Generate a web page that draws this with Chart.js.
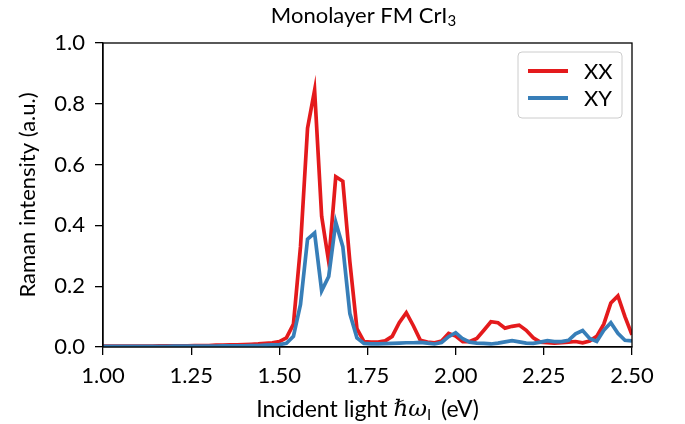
<!DOCTYPE html>
<html>
<head>
<meta charset="utf-8">
<script src="https://cdn.jsdelivr.net/npm/chart.js@4.4.1/dist/chart.umd.min.js"></script>
<style>
  html, body { margin: 0; padding: 0; background: #fff; }
  #c { display: block; }
</style>
</head>
<body>
<canvas id="c" width="685" height="424"></canvas>
<script>
// ---- data ----
const energy = [
  1.00,1.02,1.04,1.06,1.08,1.10,1.12,1.14,1.16,1.18,
  1.20,1.22,1.24,1.26,1.28,1.30,1.32,1.34,1.36,1.38,
  1.40,1.42,1.44,1.46,1.48,1.50,1.52,1.54,1.56,1.58,
  1.60,1.62,1.64,1.66,1.68,1.70,1.72,1.74,1.76,1.78,
  1.80,1.82,1.84,1.86,1.88,1.90,1.92,1.94,1.96,1.98,
  2.00,2.02,2.04,2.06,2.08,2.10,2.12,2.14,2.16,2.18,
  2.20,2.22,2.24,2.26,2.28,2.30,2.32,2.34,2.36,2.38,
  2.40,2.42,2.44,2.46,2.48,2.50
];
const xxIntensity = [
  0.003,0.003,0.003,0.003,0.003,0.003,0.003,0.003,0.004,0.004,
  0.004,0.004,0.004,0.005,0.005,0.005,0.006,0.006,0.007,0.007,
  0.008,0.009,0.010,0.012,0.014,0.018,0.030,0.075,0.330,0.720,
  0.845,0.430,0.280,0.560,0.545,0.280,0.060,0.018,0.016,0.016,
  0.020,0.035,0.080,0.113,0.070,0.022,0.016,0.014,0.020,0.045,
  0.036,0.018,0.018,0.028,0.055,0.083,0.080,0.062,0.068,0.072,
  0.055,0.030,0.016,0.014,0.013,0.014,0.016,0.018,0.014,0.020,
  0.035,0.075,0.145,0.168,0.100,0.040
];
const xyIntensity = [
  0.002,0.002,0.002,0.002,0.002,0.002,0.002,0.002,0.002,0.002,
  0.003,0.003,0.003,0.003,0.003,0.003,0.003,0.004,0.004,0.004,
  0.004,0.005,0.005,0.006,0.007,0.008,0.012,0.035,0.140,0.355,
  0.375,0.185,0.232,0.410,0.330,0.110,0.030,0.012,0.010,0.010,
  0.011,0.012,0.013,0.014,0.014,0.015,0.013,0.010,0.015,0.034,
  0.047,0.027,0.016,0.013,0.012,0.010,0.013,0.017,0.021,0.017,
  0.013,0.012,0.016,0.021,0.018,0.018,0.022,0.043,0.054,0.028,
  0.018,0.055,0.080,0.045,0.022,0.020
];
const seriesLabels = ["XX", "XY"];
const xTicks = [1.00, 1.25, 1.50, 1.75, 2.00, 2.25, 2.50];
const yTicks = [0.0, 0.2, 0.4, 0.6, 0.8, 1.0];
const colors = ["#e41a1c", "#377eb8"];

const FONT_FAMILY = 'Lato, "DejaVu Sans", sans-serif';
const FS = 22;

function drawRich(ctx, parts, cx, cy) {
  let total = 0;
  parts.forEach(p => { ctx.font = p.font; p.w = ctx.measureText(p.t).width + (p.gap || 0); total += p.w; });
  let x = cx - total / 2;
  ctx.textBaseline = 'middle';
  ctx.textAlign = 'left';
  parts.forEach(p => { ctx.font = p.font; ctx.fillText(p.t, x, cy + (p.dy || 0)); x += p.w; });
}

const decor = {
  id: 'decor',
  afterDraw(chart) {
    const ctx = chart.ctx;
    const a = chart.chartArea;
    ctx.save();
    ctx.strokeStyle = '#000';
    ctx.lineWidth = 1.3;
    ctx.strokeRect(a.left, a.top, a.right - a.left, a.bottom - a.top);
    ctx.fillStyle = '#000';
    drawRich(ctx, [
      {t: 'Monolayer FM CrI', font: `${FS}px ${FONT_FAMILY}`},
      {t: '3', font: `${Math.round(FS*0.7)}px ${FONT_FAMILY}`, dy: 5}
    ], (a.left + a.right) / 2 - 4, 16);
    drawRich(ctx, [
      {t: 'Incident light ', font: `${FS + 1}px ${FONT_FAMILY}`},
      {t: 'ℏω', font: `italic ${FS + 1}px "DejaVu Serif", serif`},
      {t: 'I', font: `${Math.round(FS*0.7)}px ${FONT_FAMILY}`, dy: 5, gap: 4},
      {t: ' (eV)', font: `${FS + 1}px ${FONT_FAMILY}`}
    ], (a.left + a.right) / 2, 410);
    ctx.save();
    ctx.translate(28, (a.top + a.bottom) / 2);
    ctx.rotate(-Math.PI / 2);
    drawRich(ctx, [{t: 'Raman intensity (a.u.)', font: `${FS}px ${FONT_FAMILY}`}], 0, 0);
    ctx.restore();
    // legend
    const lx = 518, ly = 52, lw = 104, lh = 66, r = 4;
    ctx.beginPath();
    ctx.moveTo(lx + r, ly);
    ctx.arcTo(lx + lw, ly, lx + lw, ly + lh, r);
    ctx.arcTo(lx + lw, ly + lh, lx, ly + lh, r);
    ctx.arcTo(lx, ly + lh, lx, ly, r);
    ctx.arcTo(lx, ly, lx + lw, ly, r);
    ctx.closePath();
    ctx.fillStyle = 'rgba(255,255,255,0.8)';
    ctx.fill();
    ctx.strokeStyle = '#cccccc';
    ctx.lineWidth = 1;
    ctx.stroke();
    chart.data.datasets.forEach((ds, i) => {
      const yy = ly + 19 + i * 27;
      ctx.strokeStyle = ds.borderColor;
      ctx.lineWidth = 3.8;
      ctx.beginPath();
      ctx.moveTo(lx + 10, yy);
      ctx.lineTo(lx + 50, yy);
      ctx.stroke();
      ctx.fillStyle = '#000';
      ctx.font = `${FS}px ${FONT_FAMILY}`;
      ctx.textAlign = 'left';
      ctx.textBaseline = 'middle';
      ctx.fillText(ds.label, lx + 66, yy + 1);
    });
    ctx.restore();
  }
};

new Chart(document.getElementById('c'), {
  type: 'line',
  data: {
    datasets: [
      { label: seriesLabels[0], data: energy.map((e, i) => ({x: e, y: xxIntensity[i]})),
        borderColor: colors[0], borderWidth: 3.7, pointRadius: 0, tension: 0, order: 2 },
      { label: seriesLabels[1], data: energy.map((e, i) => ({x: e, y: xyIntensity[i]})),
        borderColor: colors[1], borderWidth: 3.7, pointRadius: 0, tension: 0, order: 1 }
    ]
  },
  options: {
    responsive: false,
    devicePixelRatio: 1,
    animation: false,
    layout: { padding: { left: 0, top: 43, right: 53, bottom: 0 } },
    plugins: { legend: { display: false }, tooltip: { enabled: false }, title: { display: false } },
    scales: {
      x: {
        type: 'linear', min: 1.0, max: 2.5,
        afterBuildTicks: s => { s.ticks = xTicks.map(v => ({value: v})); },
        afterFit: s => { s.height = 77; },
        ticks: { color: '#000', font: { family: FONT_FAMILY, size: FS }, padding: 8,
                 maxRotation: 0, callback: v => Number(v).toFixed(2) },
        grid: { display: true, drawOnChartArea: false, drawTicks: true, tickLength: 8, color: '#000', lineWidth: 1.3 },
        border: { display: true, color: '#000', width: 1.3 }
      },
      y: {
        type: 'linear', min: 0, max: 1.0,
        afterBuildTicks: s => { s.ticks = yTicks.map(v => ({value: v})); },
        afterFit: s => { s.width = 103; },
        ticks: { color: '#000', font: { family: FONT_FAMILY, size: FS }, padding: 10,
                 callback: v => Number(v).toFixed(1) },
        grid: { display: true, drawOnChartArea: false, drawTicks: true, tickLength: 8, color: '#000', lineWidth: 1.3 },
        border: { display: true, color: '#000', width: 1.3 }
      }
    }
  },
  plugins: [decor]
});
</script>
</body>
</html>
